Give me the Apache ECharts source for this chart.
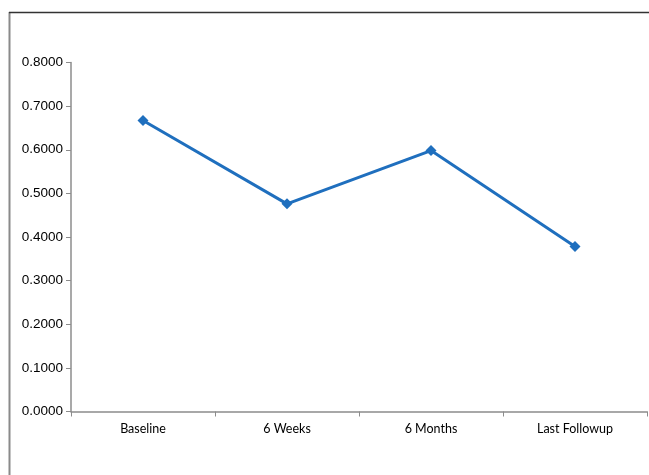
<!DOCTYPE html>
<html>
<head>
<meta charset="utf-8">
<script src="https://cdn.jsdelivr.net/npm/echarts@6/dist/echarts.min.js"></script>
<style>
  html, body { margin: 0; padding: 0; background: #fff; }
  #chart { width: 649px; height: 475px; }
</style>
</head>
<body>
<div id="chart"></div>
<script>
// Time points of the follow-up and the measured mean at each one
const categories = ['Baseline', '6 Weeks', '6 Months', 'Last Followup'];
const values = [0.667, 0.476, 0.598, 0.378];

// Value axis range and step
const yMin = 0;
const yMax = 0.8;
const yStep = 0.1;

const chart = echarts.init(document.getElementById('chart'), null, { renderer: 'canvas' });

chart.setOption({
  animation: false,
  backgroundColor: '#ffffff',
  grid: { left: 71, right: 2, top: 62.5, bottom: 63.5 },
  graphic: [
    // outer frame: left and top edges
    { type: 'line', shape: { x1: 9.5, y1: 12, x2: 9.5, y2: 475 }, style: { stroke: '#8a8a8a', lineWidth: 2 } },
    { type: 'line', shape: { x1: 9, y1: 12.5, x2: 649, y2: 12.5 }, style: { stroke: '#333333', lineWidth: 1.5 } }
  ],
  xAxis: {
    type: 'category',
    data: categories,
    boundaryGap: true,
    axisLine: { lineStyle: { color: '#8c8c8c', width: 1.5 } },
    axisTick: { show: true, length: 5, lineStyle: { color: '#8c8c8c' } },
    axisLabel: {
      color: '#000', fontFamily: 'Lato, "Open Sans", sans-serif', fontSize: 12.5, margin: 11
    },
    splitLine: { show: false }
  },
  yAxis: {
    type: 'value',
    min: yMin,
    max: yMax,
    interval: yStep,
    axisLine: { show: true, lineStyle: { color: '#8c8c8c', width: 1.5 } },
    axisTick: { show: true, length: 5, lineStyle: { color: '#8c8c8c' } },
    axisLabel: {
      color: '#000', fontFamily: '"Liberation Sans", Arial, sans-serif', fontSize: 13.5, margin: 8,
      formatter: v => v.toFixed(4)
    },
    splitLine: { show: false }
  },
  series: [{
    type: 'line',
    data: values,
    symbol: 'diamond',
    symbolSize: 11,
    lineStyle: { color: '#1f6fbe', width: 3 },
    itemStyle: { color: '#1f6fbe' }
  }]
});
</script>
</body>
</html>
